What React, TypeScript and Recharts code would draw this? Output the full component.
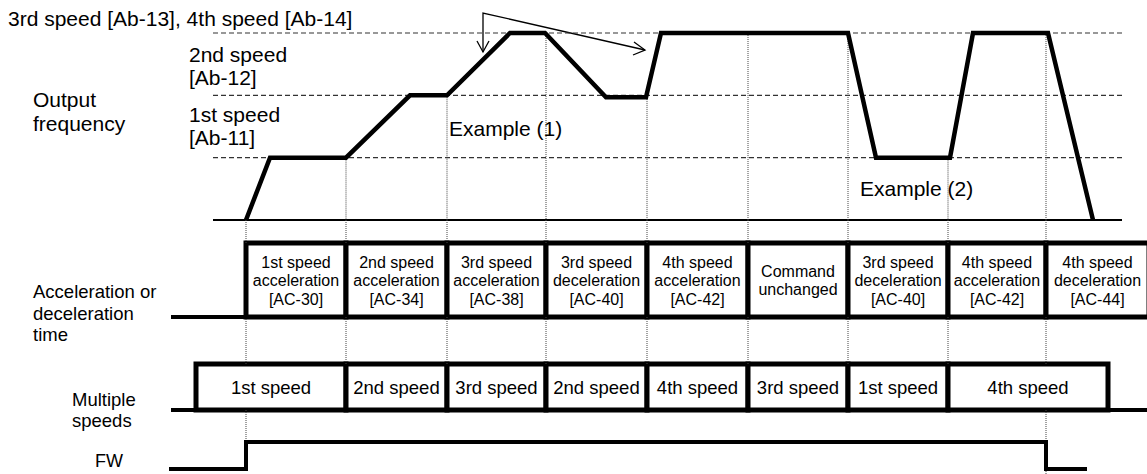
import React from 'react';
import {
  ComposedChart,
  Line,
  XAxis,
  YAxis,
  ReferenceLine,
  ReferenceArea,
  Customized,
} from 'recharts';

// ---------- data ----------
// time axis: one unit = one command interval
const freqTimes = [0, 0.24, 1.0, 1.64, 2.01, 2.64, 2.99, 3.6, 4.0, 4.15, 6.02, 6.3, 7.04, 7.27, 8.02, 8.47];
const freqLevels = [0, 1, 1, 2, 2, 3, 3, 1.97, 1.97, 3, 3, 1, 1, 3, 3, 0];
const speedSetpoints = [1, 2, 3];

const commandTimes = [0, 1, 2.01, 3, 4.01, 5.02, 6.02, 7.02, 8];
const accelLastEnd = 9.03;
const accelLabels: string[][] = [
  ['1st speed', 'acceleration', '[AC-30]'],
  ['2nd speed', 'acceleration', '[AC-34]'],
  ['3rd speed', 'acceleration', '[AC-38]'],
  ['3rd speed', 'deceleration', '[AC-40]'],
  ['4th speed', 'acceleration', '[AC-42]'],
  ['Command', 'unchanged'],
  ['3rd speed', 'deceleration', '[AC-40]'],
  ['4th speed', 'acceleration', '[AC-42]'],
  ['4th speed', 'deceleration', '[AC-44]'],
];

const speedTimes = [-0.5, 1, 2.01, 3, 4.01, 5.02, 6.02, 7.02, 8.62];
const speedLabels = ['1st speed', '2nd speed', '3rd speed', '2nd speed', '4th speed', '3rd speed', '1st speed', '4th speed'];

const fwOnTime = 0;
const fwOffTime = 8;

// ---------- layout ----------
const W = 1147;
const H = 474;
const FONT = '"Liberation Sans", Arial, Helvetica, sans-serif';
const X_MIN = -2.46;
const X_MAX = 9.01;
const F_MIN = -4.075;
const F_MAX = 3.529;
const FREQ_START = -0.33;
const FREQ_END = 8.76;
const LANE = { freqBase: 220, accTop: 243, accBot: 317, spdTop: 364, spdBot: 410, fwHigh: 442, fwLow: 469, bottom: 474 };
const LANE_START = -0.73;
const FW_START = -0.75;
const FW_END = 8.39;

const freqData = freqTimes.map((t, i) => ({ t, f: freqLevels[i] }));

const freqAt = (t: number) => {
  for (let i = 0; i < freqTimes.length - 1; i++) {
    if (t >= freqTimes[i] && t <= freqTimes[i + 1]) {
      const a = freqTimes[i];
      const b = freqTimes[i + 1];
      const r = b === a ? 0 : (t - a) / (b - a);
      return freqLevels[i] + r * (freqLevels[i + 1] - freqLevels[i]);
    }
  }
  return 0;
};

const boxLabel = (lines: string[], size: number, gap: number, offset: number) => (props: any) => {
  const vb = props.viewBox || { x: 0, y: 0, width: 0, height: 0 };
  const cx = vb.x + vb.width / 2;
  const cy = vb.y + vb.height / 2;
  return (
    <text textAnchor="middle" fontFamily={FONT} fontSize={size} fill="#000">
      {lines.map((l, i) => (
        <tspan key={i} x={cx} y={cy + offset + (i - (lines.length - 1) / 2) * gap}>
          {l}
        </tspan>
      ))}
    </text>
  );
};

const Annotations = () => (
  <g fontFamily={FONT} fill="#000">
    <text x={8} y={26} fontSize={21}>3rd speed [Ab-13], 4th speed [Ab-14]</text>
    <text x={189} y={62} fontSize={21}>2nd speed</text>
    <text x={189} y={85} fontSize={21}>[Ab-12]</text>
    <text x={189} y={122} fontSize={21}>1st speed</text>
    <text x={189} y={145} fontSize={21}>[Ab-11]</text>
    <text x={33} y={107} fontSize={21}>Output</text>
    <text x={33} y={131} fontSize={21}>frequency</text>
    <text x={449} y={136} fontSize={21}>Example (1)</text>
    <text x={860} y={196} fontSize={21}>Example (2)</text>
    <text x={33} y={298} fontSize={18.5}>Acceleration or</text>
    <text x={33} y={320} fontSize={18.5}>deceleration</text>
    <text x={33} y={341} fontSize={18.5}>time</text>
    <text x={72} y={406} fontSize={18.5}>Multiple</text>
    <text x={72} y={427} fontSize={18.5}>speeds</text>
    <text x={95} y={467} fontSize={18}>FW</text>
    <path d="M483,52 L483,13 L645,50" fill="none" stroke="#000" strokeWidth={1.3} />
    <path d="M477,41 L483,52 L489,41" fill="none" stroke="#000" strokeWidth={1.3} />
    <path d="M634,42 L645,50 L633,55" fill="none" stroke="#000" strokeWidth={1.3} />
  </g>
);

const dotted = { stroke: '#444', strokeWidth: 1, strokeDasharray: '1 1' };
const thick = { stroke: '#000', strokeWidth: 4, strokeLinecap: 'square' as const };

export default function App() {
  return (
    <div style={{ position: 'absolute', left: 0, top: 0, width: W, height: H, background: '#fff' }}>
      <ComposedChart width={W} height={H} data={freqData} margin={{ top: 0, right: 0, bottom: 0, left: 0 }}>
        <XAxis type="number" dataKey="t" domain={[X_MIN, X_MAX]} hide allowDataOverflow />
        <YAxis yAxisId="f" type="number" domain={[F_MIN, F_MAX]} hide allowDataOverflow />
        <YAxis yAxisId="lane" type="number" domain={[0, H]} reversed hide allowDataOverflow />

        {/* dashed set-point lines */}
        {speedSetpoints.map((lv) => (
          <ReferenceLine
            key={'sp' + lv}
            yAxisId="f"
            segment={[{ x: FREQ_START, y: lv }, { x: FREQ_END, y: lv }]}
            stroke="#333"
            strokeWidth={1.2}
            strokeDasharray="5 3"
          />
        ))}
        {/* zero line */}
        <ReferenceLine
          yAxisId="f"
          segment={[{ x: FREQ_START, y: 0 }, { x: FREQ_END, y: 0 }]}
          stroke="#000"
          strokeWidth={2}
        />

        {/* dotted timing guides */}
        {commandTimes.map((t) => (
          <ReferenceLine key={'d1' + t} yAxisId="f" segment={[{ x: t, y: freqAt(t) }, { x: t, y: 0 }]} {...dotted} />
        ))}
        {commandTimes.map((t) => (
          <ReferenceLine key={'d2' + t} yAxisId="lane" segment={[{ x: t, y: LANE.freqBase }, { x: t, y: LANE.accTop }]} {...dotted} />
        ))}
        {commandTimes.map((t) => (
          <ReferenceLine key={'d3' + t} yAxisId="lane" segment={[{ x: t, y: LANE.accBot }, { x: t, y: LANE.spdTop }]} {...dotted} />
        ))}
        {[fwOnTime, fwOffTime].map((t) => (
          <ReferenceLine key={'d4' + t} yAxisId="lane" segment={[{ x: t, y: LANE.spdBot }, { x: t, y: LANE.fwHigh }]} {...dotted} />
        ))}
        <ReferenceLine yAxisId="lane" segment={[{ x: fwOffTime, y: LANE.fwLow }, { x: fwOffTime, y: LANE.bottom }]} {...dotted} />

        {/* acceleration / deceleration time row */}
        <ReferenceLine yAxisId="lane" segment={[{ x: LANE_START, y: LANE.accBot }, { x: commandTimes[0], y: LANE.accBot }]} {...thick} />
        {accelLabels.map((lines, i) => {
          const x1 = commandTimes[i];
          const x2 = i + 1 < commandTimes.length ? commandTimes[i + 1] : accelLastEnd;
          return (
            <ReferenceArea
              key={'acc' + i}
              yAxisId="lane"
              x1={x1}
              x2={x2}
              y1={LANE.accTop}
              y2={LANE.accBot}
              fill="#fff"
              fillOpacity={1}
              stroke="#000"
              strokeWidth={5}
              ifOverflow="hidden"
              label={boxLabel(lines, 16, 18.5, 6)}
            />
          );
        })}

        {/* multiple speeds row */}
        <ReferenceLine yAxisId="lane" segment={[{ x: LANE_START, y: LANE.spdBot }, { x: speedTimes[0], y: LANE.spdBot }]} {...thick} />
        {speedLabels.map((lbl, i) => (
          <ReferenceArea
            key={'spd' + i}
            yAxisId="lane"
            x1={speedTimes[i]}
            x2={speedTimes[i + 1]}
            y1={LANE.spdTop}
            y2={LANE.spdBot}
            fill="#fff"
            fillOpacity={1}
            stroke="#000"
            strokeWidth={5}
            ifOverflow="hidden"
            label={boxLabel([lbl], 18.5, 0, 6.5)}
          />
        ))}
        <ReferenceLine
          yAxisId="lane"
          segment={[{ x: speedTimes[speedTimes.length - 1], y: LANE.spdBot }, { x: X_MAX, y: LANE.spdBot }]}
          {...thick}
        />

        {/* FW signal */}
        <ReferenceLine yAxisId="lane" segment={[{ x: FW_START, y: LANE.fwLow }, { x: fwOnTime, y: LANE.fwLow }]} {...thick} />
        <ReferenceLine yAxisId="lane" segment={[{ x: fwOnTime, y: LANE.fwLow }, { x: fwOnTime, y: LANE.fwHigh }]} {...thick} />
        <ReferenceLine yAxisId="lane" segment={[{ x: fwOnTime, y: LANE.fwHigh }, { x: fwOffTime, y: LANE.fwHigh }]} {...thick} />
        <ReferenceLine yAxisId="lane" segment={[{ x: fwOffTime, y: LANE.fwHigh }, { x: fwOffTime, y: LANE.fwLow }]} {...thick} />
        <ReferenceLine yAxisId="lane" segment={[{ x: fwOffTime, y: LANE.fwLow }, { x: FW_END, y: LANE.fwLow }]} {...thick} />

        {/* output frequency */}
        <Line
          yAxisId="f"
          type="linear"
          dataKey="f"
          stroke="#000"
          strokeWidth={4.5}
          dot={false}
          activeDot={false}
          isAnimationActive={false}
        />

        <Customized component={<Annotations />} />
      </ComposedChart>
    </div>
  );
}
